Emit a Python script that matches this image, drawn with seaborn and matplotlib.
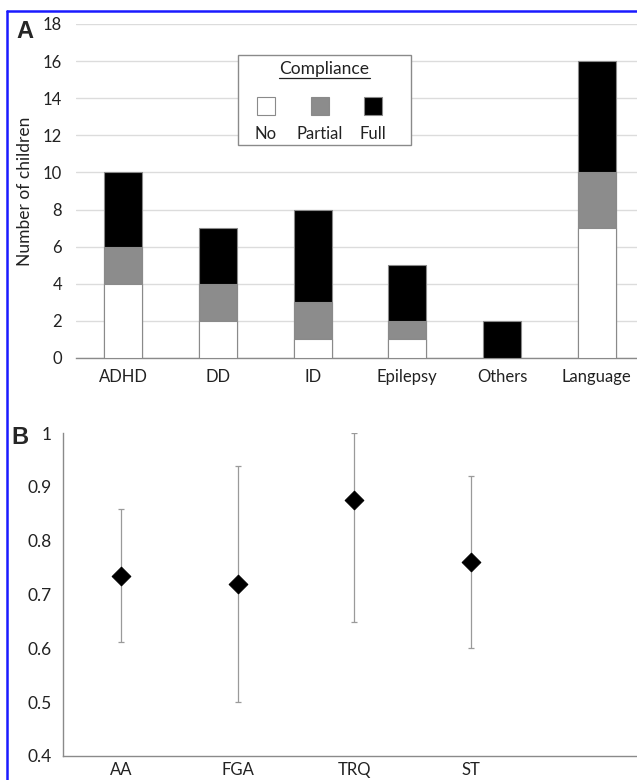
import numpy as np
import pandas as pd
import seaborn as sns
import matplotlib.pyplot as plt
from matplotlib.patches import Rectangle
from matplotlib.lines import Line2D

# Panel A: compliance by diagnosis
diagnoses = ["ADHD", "DD", "ID", "Epilepsy", "Others", "Language"]
no_comp = [4, 2, 1, 1, 0, 7]
partial_comp = [2, 2, 2, 1, 0, 3]
full_comp = [4, 3, 5, 3, 2, 6]
legend_labels = ["No", "Partial", "Full"]
legend_colors = ["white", "#8c8c8c", "black"]

# Panel B: mean score per drug group with interval
drugs = ["AA", "FGA", "TRQ", "ST"]
means = [0.735, 0.719, 0.876, 0.760]
lower = [0.612, 0.500, 0.648, 0.600]
upper = [0.858, 0.939, 1.000, 0.920]

sns.set_theme(style="white")
plt.rcParams["font.family"] = ["Lato", "DejaVu Sans"]

fig = plt.figure(figsize=(6.37, 7.8), dpi=100)
W, H = 637, 780


def px_axes(left, top, right, bottom):
    return fig.add_axes([left / W, 1 - bottom / H, (right - left) / W, (bottom - top) / H])


# ---------- panel A ----------
axA = px_axes(76, 24, 644, 358)
dfA = pd.DataFrame({"diag": diagnoses,
                    "no": no_comp, "partial": partial_comp, "full": full_comp})
dfA["lvl2"] = dfA["no"] + dfA["partial"]
dfA["lvl3"] = dfA["lvl2"] + dfA["full"]

for col, color in zip(["lvl3", "lvl2", "no"], legend_colors[::-1]):
    sns.barplot(data=dfA, x="diag", y=col, order=diagnoses, color=color,
                width=0.4, edgecolor="#8a8a8a", linewidth=0.8, saturation=1,
                ax=axA, zorder=3)
# hide zero-height outlines
for p in axA.patches:
    if p.get_height() == 0:
        p.set_visible(False)

axA.set_ylim(0, 18)
axA.set_xlim(-0.5, 5.5)
axA.set_yticks(range(0, 19, 2))
axA.yaxis.grid(True, color="#dcdcdc", linewidth=1, zorder=0)
axA.set_axisbelow(True)
for s in ["top", "right", "left"]:
    axA.spines[s].set_visible(False)
axA.spines["bottom"].set_color("#8a8a8a")
axA.spines["bottom"].set_linewidth(1)
axA.tick_params(axis="y", length=0, pad=10, labelsize=12, labelcolor="#222222")
axA.tick_params(axis="x", length=0, pad=8, labelsize=12, labelcolor="#222222")
axA.set_xlabel("")
axA.set_ylabel("Number of children", fontsize=12.5, color="#222222", labelpad=7)

# legend box drawn by hand (Excel style: swatch above label)
fig.patches.append(Rectangle((238 / W, 1 - 145 / H), 173 / W, 90 / H,
                             transform=fig.transFigure, facecolor="white",
                             edgecolor="#8a8a8a", linewidth=1, zorder=5))
fig.text(324 / W, 1 - 69 / H, "Compliance", ha="center", va="center",
         fontsize=12.5, color="#222222", zorder=6)
fig.lines.append(Line2D([279 / W, 370 / W], [1 - 78 / H, 1 - 78 / H],
                        transform=fig.transFigure, color="#222222", linewidth=0.9, zorder=6))
for xc, lab, colr in zip([266, 320, 373], legend_labels, legend_colors):
    fig.patches.append(Rectangle(((xc - 9) / W, 1 - 115 / H), 18 / W, 18 / H,
                                 transform=fig.transFigure, facecolor=colr,
                                 edgecolor="#8a8a8a", linewidth=0.8, zorder=6))
    fig.text(xc / W, 1 - 134 / H, lab, ha="center", va="center",
             fontsize=12, color="#222222", zorder=6)

# ---------- panel B ----------
axB = px_axes(63, 433, 637, 756)
err = np.array([np.subtract(means, lower), np.subtract(upper, means)])
axB.errorbar(drugs, means, yerr=err, fmt="none", ecolor="#9a9a9a",
             elinewidth=0.9, capsize=2, capthick=0.9, zorder=2)
sns.scatterplot(x=drugs, y=means, marker="D", s=90, color="black",
                edgecolor="black", ax=axB, zorder=3)
axB.set_xlim(-0.5, (637 - 63) / 116.5 - 0.5)
axB.set_ylim(0.4, 1.0)
axB.set_yticks([0.4, 0.5, 0.6, 0.7, 0.8, 0.9, 1.0])
axB.set_yticklabels(["0.4", "0.5", "0.6", "0.7", "0.8", "0.9", "1"])
for s in ["top", "right"]:
    axB.spines[s].set_visible(False)
for s in ["left", "bottom"]:
    axB.spines[s].set_color("#8a8a8a")
    axB.spines[s].set_linewidth(1)
axB.tick_params(axis="y", length=0, pad=8, labelsize=12.5, labelcolor="#222222")
axB.tick_params(axis="x", length=0, pad=4, labelsize=12, labelcolor="#222222")
axB.grid(False)

# panel letters
fig.text(25 / W, 1 - 32 / H, "A", ha="center", va="center", fontsize=17,
         fontweight="bold", family=["Liberation Sans", "DejaVu Sans"])
fig.text(20 / W, 1 - 437 / H, "B", ha="center", va="center", fontsize=17,
         fontweight="bold", family=["Liberation Sans", "DejaVu Sans"])

# blue frame on left and top edge
fig.lines.append(Line2D([7 / W, 7 / W], [0, 1 - 11 / H], transform=fig.transFigure,
                        color="#1a1aff", linewidth=1.8))
fig.lines.append(Line2D([7 / W, 1], [1 - 11 / H, 1 - 11 / H], transform=fig.transFigure,
                        color="#1a1aff", linewidth=1.8))

fig.savefig("out.png", dpi=100)
